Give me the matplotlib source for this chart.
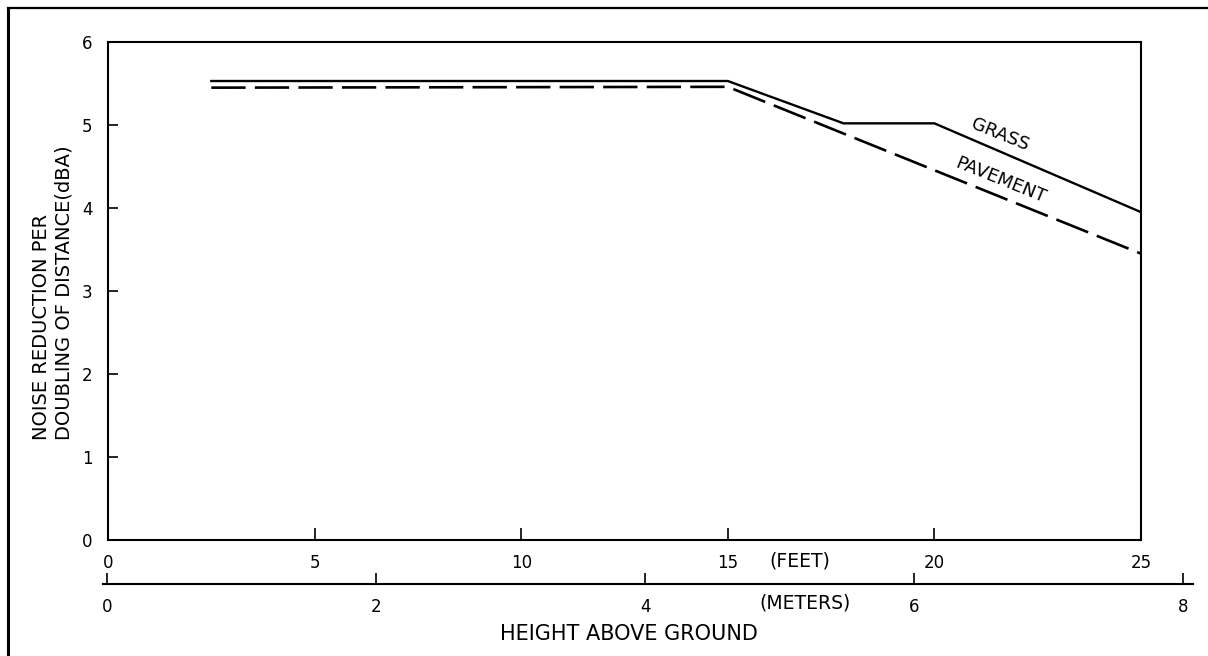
import matplotlib
matplotlib.use("Agg")
import matplotlib.pyplot as plt
from matplotlib.lines import Line2D

# Noise reduction per doubling of distance vs. source height
grass_ft = [2.5, 15.0, 17.8, 20.0, 25.0]
grass_dba = [5.53, 5.53, 5.02, 5.02, 3.95]
pave_ft = [2.5, 15.0, 25.0]
pave_dba = [5.45, 5.46, 3.45]

feet_ticks = [0, 5, 10, 15, 20, 25]
meter_ticks = [0, 2, 4, 6, 8]
dba_ticks = [0, 1, 2, 3, 4, 5, 6]

W, H = 1208, 656
fig = plt.figure(figsize=(W / 100, H / 100), dpi=100)
fig.patch.set_facecolor("white")


def fx(px):
    return px / W


def fy(py):
    return 1 - py / H


FS = 12
plt.rcParams["font.family"] = ["DejaVu Sans"]

# main plotting frame (x in feet)
ax = fig.add_axes([fx(108), fy(540), fx(1141) - fx(108), fy(42) - fy(540)])
ax.set_xlim(0, 25)
ax.set_ylim(0, 6)
ax.plot(grass_ft, grass_dba, color="black", lw=1.7, solid_joinstyle="miter")
ax.plot(pave_ft, pave_dba, color="black", lw=1.9, dashes=(13, 3.5))

for s in ax.spines.values():
    s.set_linewidth(1.5)
ax.set_xticks(feet_ticks)
ax.set_xticklabels([str(v) for v in feet_ticks], fontsize=FS)
ax.set_yticks(dba_ticks)
ax.set_yticklabels([str(v) for v in dba_ticks], fontsize=FS)
ax.tick_params(axis="x", direction="in", length=9, width=1.2, pad=10)
ax.tick_params(axis="y", direction="in", length=7, width=1.2, pad=11)

ax.text(21.6, 4.88, "GRASS", rotation=-22, rotation_mode="anchor",
        ha="center", va="center", fontsize=13)
ax.text(21.6, 4.33, "PAVEMENT", rotation=-22, rotation_mode="anchor",
        ha="center", va="center", fontsize=13)

# metric scale drawn underneath
axm = fig.add_axes([fx(103), fy(584), fx(1193) - fx(103), 0.0001])
axm.set_xlim(-0.03, 8.074)
axm.set_ylim(0, 1)
axm.patch.set_visible(False)
for k in ("top", "left", "right"):
    axm.spines[k].set_visible(False)
axm.spines["bottom"].set_linewidth(1.5)
axm.set_yticks([])
axm.set_xticks(meter_ticks)
axm.set_xticklabels([str(v) for v in meter_ticks], fontsize=FS)
axm.tick_params(axis="x", direction="in", length=8, width=1.2, pad=10)

fig.text(fx(800), fy(561), "(FEET)", ha="center", va="center", fontsize=13.5)
fig.text(fx(805), fy(603), "(METERS)", ha="center", va="center", fontsize=13.5)
fig.text(fx(629), fy(634), "HEIGHT ABOVE GROUND", ha="center", va="center",
         fontsize=15)

fig.text(fx(42), fy(440), "NOISE REDUCTION PER", rotation=90,
         ha="center", va="bottom", fontsize=14)
fig.text(fx(64), fy(440), "DOUBLING OF DISTANCE(dBA)", rotation=90,
         ha="center", va="bottom", fontsize=14)

# page border
fig.add_artist(Line2D([fx(8), fx(8)], [0, fy(8)], color="black", lw=2.2))
fig.add_artist(Line2D([fx(8), 1], [fy(8), fy(8)], color="black", lw=1.6))

fig.savefig("out.png", dpi=100)
